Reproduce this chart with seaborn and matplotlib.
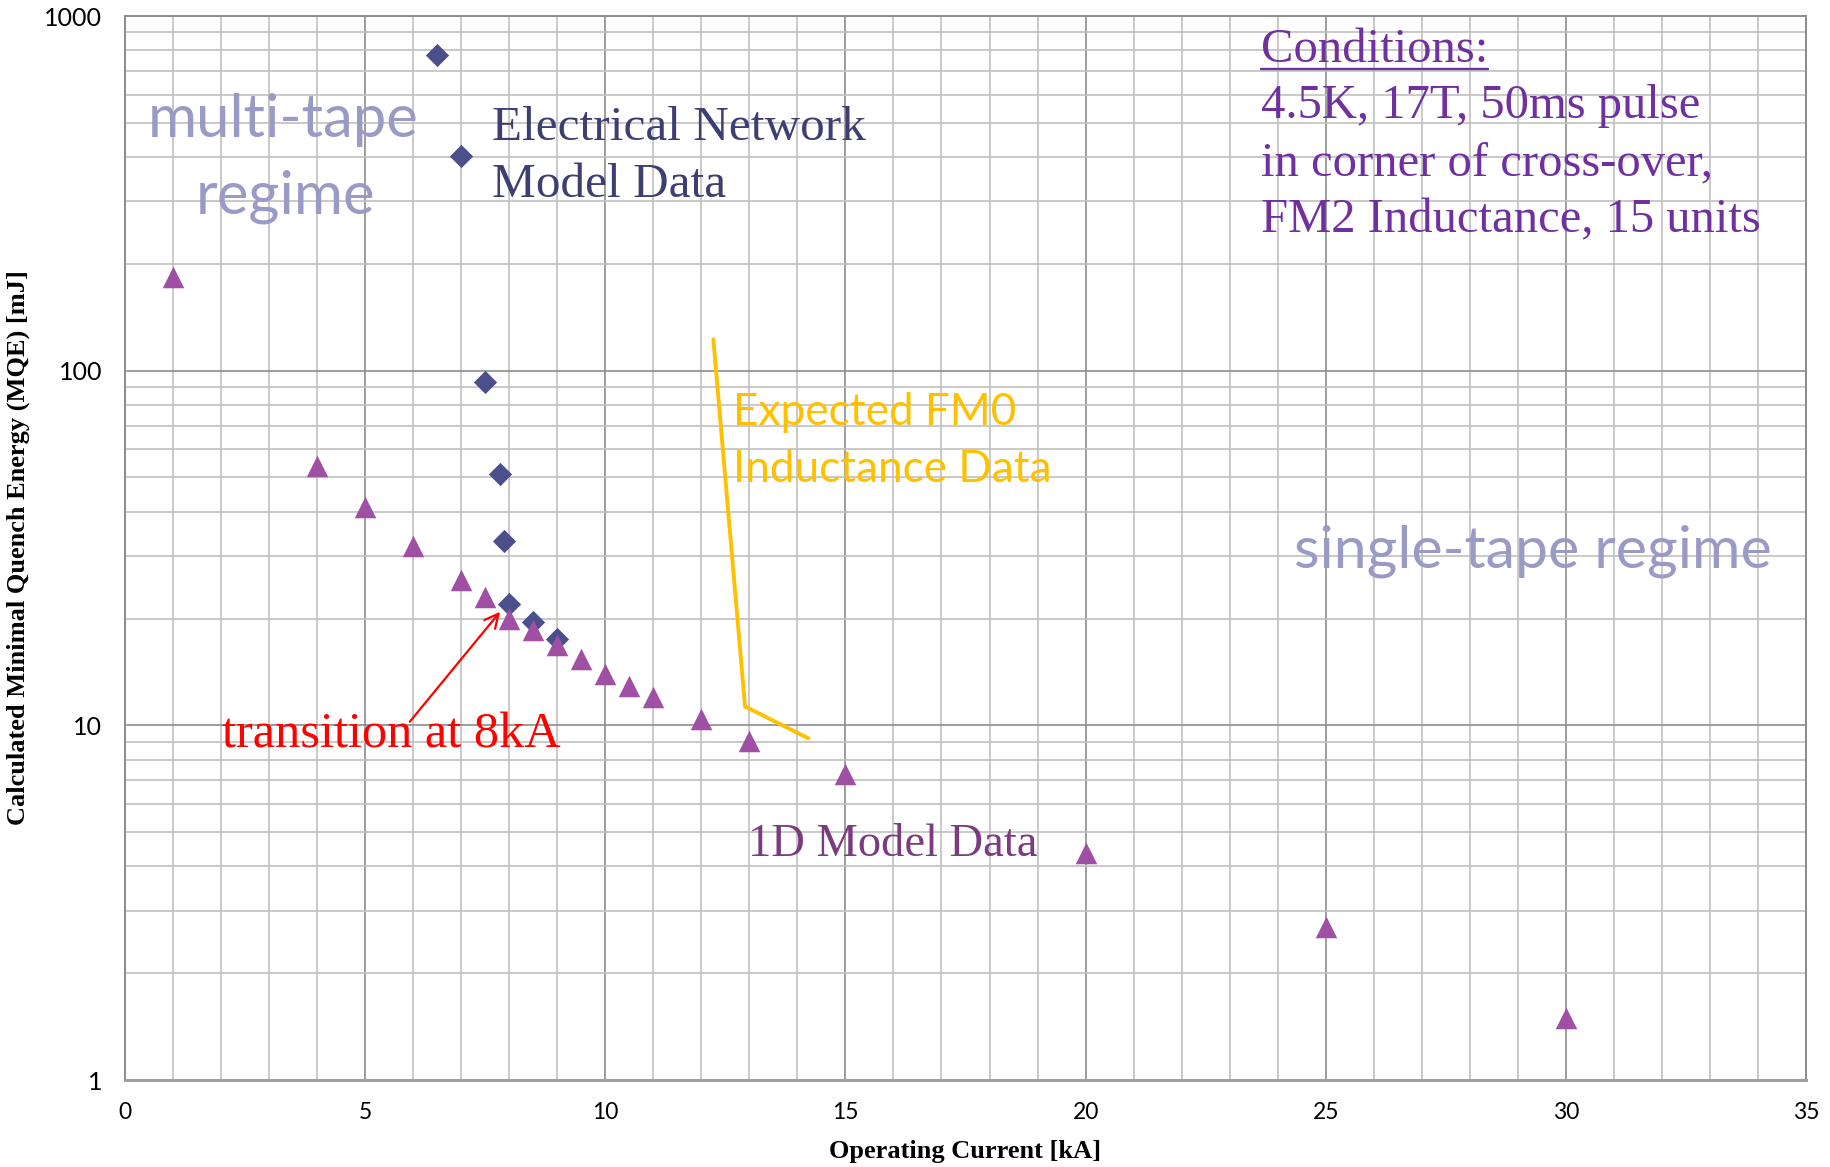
import matplotlib
matplotlib.use("Agg")
import matplotlib.pyplot as plt
from matplotlib.lines import Line2D
from matplotlib.ticker import FixedLocator, NullFormatter, FixedFormatter
import numpy as np
import pandas as pd
import seaborn as sns

# ---------------- data ----------------
current_1d = [1, 4, 5, 6, 7, 7.5, 8, 8.5, 9, 9.5, 10, 10.5, 11, 12, 13, 15, 20, 25, 30]
mqe_1d = [184, 54, 41.3, 32.1, 25.7, 23.0, 20.0, 18.6, 16.9, 15.4, 14.0, 12.9, 12.0,
          10.4, 9.05, 7.27, 4.37, 2.70, 1.50]

current_net = [6.5, 7, 7.5, 7.8, 7.9, 8, 8.5, 9]
mqe_net = [776, 402, 92.9, 51.1, 33.1, 22.0, 19.5, 17.5]

current_fm0 = [12.25, 12.91, 14.23]
mqe_fm0 = [122.5, 11.3, 9.19]

x_ticks = [0, 5, 10, 15, 20, 25, 30, 35]
x_tick_labels = ["0", "5", "10", "15", "20", "25", "30", "35"]
y_ticks = [1, 10, 100, 1000]
y_tick_labels = ["1", "10", "100", "1000"]

x_label = "Operating Current [kA]"
y_label = "Calculated Minimal Quench Energy (MQE) [mJ]"

df_1d = pd.DataFrame({"current": current_1d, "mqe": mqe_1d})
df_net = pd.DataFrame({"current": current_net, "mqe": mqe_net})
df_fm0 = pd.DataFrame({"current": current_fm0, "mqe": mqe_fm0})

# ---------------- style ----------------
sns.set_theme(style="white")
plt.rcParams["font.family"] = ["Lato", "DejaVu Sans"]

W, H, DPI = 1831, 1167, 100
fig = plt.figure(figsize=(W / DPI, H / DPI), dpi=DPI)
L, R, T, B = 125, 1806, 16, 1080
ax = fig.add_axes([L / W, 1 - B / H, (R - L) / W, (B - T) / H])

ax.set_yscale("log")
ax.set_xlim(0, 35)
ax.set_ylim(1, 1000)

# grid
major_c, minor_c = "#8C8C8C", "#C0C0C0"
ax.xaxis.set_major_locator(FixedLocator(x_ticks))
ax.xaxis.set_major_formatter(FixedFormatter(x_tick_labels))
ax.xaxis.set_minor_locator(FixedLocator([v for v in range(0, 36) if v % 5]))
ax.xaxis.set_minor_formatter(NullFormatter())
ax.yaxis.set_major_locator(FixedLocator(y_ticks))
ax.yaxis.set_major_formatter(FixedFormatter(y_tick_labels))
ax.yaxis.set_minor_locator(FixedLocator([m * 10 ** d for d in range(0, 3) for m in range(2, 10)]))
ax.yaxis.set_minor_formatter(NullFormatter())
ax.grid(True, which="major", color=major_c, lw=1.2, zorder=0)
ax.grid(True, which="minor", color=minor_c, lw=1.2, zorder=0)
ax.set_axisbelow(True)

for side in ["left", "top", "right"]:
    ax.spines[side].set_color(major_c)
    ax.spines[side].set_linewidth(1.4)
ax.spines["bottom"].set_color("#A0A0A0")
ax.spines["bottom"].set_linewidth(2.2)

ax.tick_params(axis="x", which="major", direction="out", length=6, width=1.2,
               color=major_c, pad=10, labelsize=16.5, labelcolor="black")
ax.tick_params(axis="y", which="major", direction="out", length=6.5, width=1.2,
               color=major_c, pad=10, labelsize=18, labelcolor="black")
ax.tick_params(which="minor", length=0)
for lab in ax.get_xticklabels() + ax.get_yticklabels():
    lab.set_fontfamily(["Lato", "DejaVu Sans"])

# ---------------- data marks ----------------
sns.lineplot(data=df_fm0, x="current", y="mqe", ax=ax, color="#FFC000", lw=2.8,
             estimator=None, sort=False, zorder=3)
sns.scatterplot(data=df_net, x="current", y="mqe", ax=ax, marker="D", s=140,
                color="#4B4F8C", linewidth=0, zorder=4)
sns.scatterplot(data=df_1d, x="current", y="mqe", ax=ax, marker="^", s=240,
                color="#9F4FA4", linewidth=0, zorder=5)

# ---------------- labels ----------------
ax.set_xlabel(x_label, fontfamily="Liberation Serif", fontweight="bold", fontsize=19,
              labelpad=12, color="black")
ax.set_ylabel(y_label, fontfamily="Liberation Serif", fontweight="bold", fontsize=19,
              labelpad=10, color="black")

# ---------------- annotations ----------------
def px(xp, yp):
    return ((xp - L) / (R - L), (B - yp) / (B - T))

sans = ["Lato", "DejaVu Sans"]
serif = ["Liberation Serif", "DejaVu Serif"]
regime_c = "#9A9AC6"

ax.text(*px(283, 137), "multi-tape", transform=ax.transAxes, ha="center", va="baseline",
        fontsize=43, color=regime_c, family=sans, zorder=6)
ax.text(*px(286, 213), "regime", transform=ax.transAxes, ha="center", va="baseline",
        fontsize=43, color=regime_c, family=sans, zorder=6)
ax.text(*px(1294, 568), "single-tape regime", transform=ax.transAxes, ha="left",
        va="baseline", fontsize=42.5, color=regime_c, family=sans, zorder=6)

net_c = "#3D3F72"
ax.text(*px(492, 140), "Electrical Network", transform=ax.transAxes, ha="left",
        va="baseline", fontsize=35.5, color=net_c, family=serif, zorder=6)
ax.text(*px(492, 197), "Model Data", transform=ax.transAxes, ha="left",
        va="baseline", fontsize=35.5, color=net_c, family=serif, zorder=6)

fm0_c = "#FFC000"
ax.text(*px(733, 425), "Expected FM0", transform=ax.transAxes, ha="left",
        va="baseline", fontsize=31.8, color=fm0_c, family=sans, zorder=6)
ax.text(*px(733, 482), "Inductance Data", transform=ax.transAxes, ha="left",
        va="baseline", fontsize=31.8, color=fm0_c, family=sans, zorder=6)

ax.text(*px(748, 856), "1D Model Data", transform=ax.transAxes, ha="left",
        va="baseline", fontsize=33.5, color="#7A3B80", family=serif, zorder=6)

ax.text(*px(222, 747), "transition at 8kA", transform=ax.transAxes, ha="left",
        va="baseline", fontsize=36.3, color="#FF0000", family=serif, zorder=6)
ax.annotate("", xy=(7.81, 20.9), xytext=(5.93, 10.24),
            arrowprops=dict(arrowstyle="->", color="#FF0000", lw=1.6,
                            mutation_scale=25, shrinkA=0, shrinkB=0), zorder=6)

cond_c = "#7030A0"
cond_lines = ["Conditions:", "4.5K, 17T, 50ms pulse", "in corner of cross-over,",
              "FM2 Inductance, 15 units"]
cond_base = [62, 118, 175, 232]
cond_texts = []
for line, yb in zip(cond_lines, cond_base):
    cond_texts.append(ax.text(*px(1261, yb), line, transform=ax.transAxes, ha="left",
                              va="baseline", fontsize=35, color=cond_c, family=serif,
                              zorder=6))

# underline for "Conditions:"
fig.canvas.draw()
rend = fig.canvas.get_renderer()
bb = cond_texts[0].get_window_extent(renderer=rend)
base_disp = ax.transAxes.transform(px(1261, 62))[1]
uy = base_disp - 6.6
fig.add_artist(Line2D([bb.x0, bb.x1], [uy, uy], transform=None, color=cond_c, lw=1.7))

fig.savefig("out.png", dpi=DPI, facecolor="white")
